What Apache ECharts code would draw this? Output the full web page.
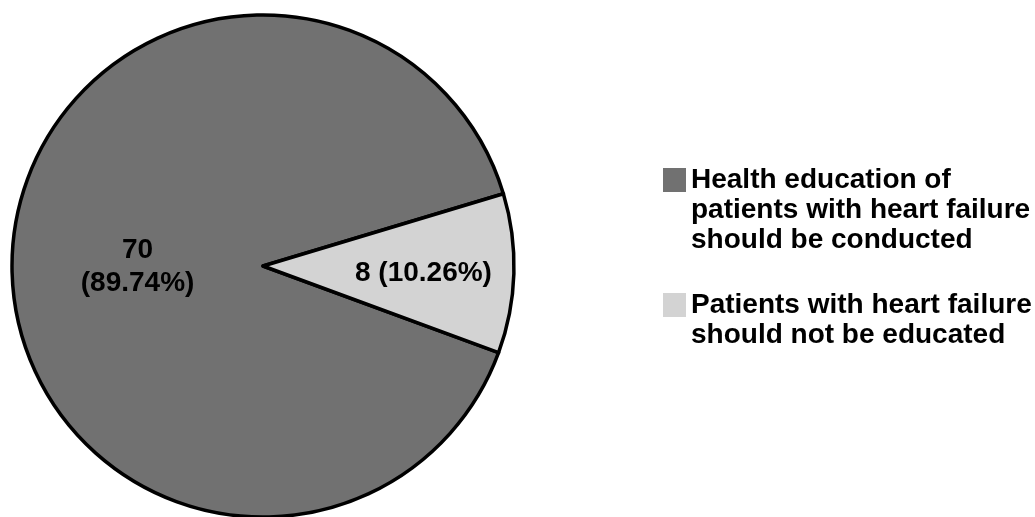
<!DOCTYPE html>
<html>
<head>
<meta charset="utf-8">
<title>Health education of patients with heart failure</title>
<script src="https://cdn.jsdelivr.net/npm/echarts@6/dist/echarts.min.js"></script>
<style>
  html, body { margin: 0; padding: 0; background: #ffffff; }
  #chart { width: 1035px; height: 517px; }
</style>
</head>
<body>
<div id="chart"></div>
<script>
// Survey answers: how many respondents chose each option
const categories = [
  'Health education of\npatients with heart failure\nshould be conducted',
  'Patients with heart failure\nshould not be educated'
];
const counts = [70, 8];
const sliceColors = ['#717171', '#d3d3d3'];
// how each slice writes its count and share
const labelFormats = ['{c}\n({d}%)', '{c} ({d}%)'];

const FONT = '"Liberation Sans", Arial, Helvetica, sans-serif';
const LEGEND_LINE = 30;

const chart = echarts.init(document.getElementById('chart'), null, { renderer: 'canvas' });

const labelOffsets = [[3, 5], [32, 3]];
const pieData = categories.map((name, i) => ({
  name: name,
  value: counts[i],
  itemStyle: { color: sliceColors[i] },
  label: {
    formatter: labelFormats[i],
    offset: labelOffsets[i]
  }
}));

chart.setOption({
  animation: false,
  backgroundColor: '#ffffff',
  legend: {
    orient: 'vertical',
    left: 663,
    top: 105,
    padding: 0,
    itemGap: 5,
    itemWidth: 23,
    itemHeight: 24,
    icon: 'rect',
    itemStyle: { borderWidth: 0 },
    // legend text is centred on its marker; leading blank lines
    // move the first written line level with the marker instead
    formatter: (name) => '\n'.repeat(name.split('\n').length - 1) + name,
    textStyle: {
      color: '#000000',
      fontFamily: FONT,
      fontWeight: 'bold',
      fontSize: 28,
      lineHeight: LEGEND_LINE
    },
    data: categories,
    selectedMode: false
  },
  series: [{
    type: 'pie',
    center: [263, 266],
    radius: [0, 251],
    startAngle: -20.2,
    clockwise: true,
    avoidLabelOverlap: false,
    silent: true,
    itemStyle: { borderColor: '#000000', borderWidth: 3.5 },
    label: {
      show: true,
      position: 'inside',
      color: '#000000',
      fontFamily: FONT,
      fontWeight: 'bold',
      fontSize: 28,
      lineHeight: 33,
      align: 'center'
    },
    labelLine: { show: false },
    emphasis: { disabled: true },
    data: pieData
  }]
});
</script>
</body>
</html>
